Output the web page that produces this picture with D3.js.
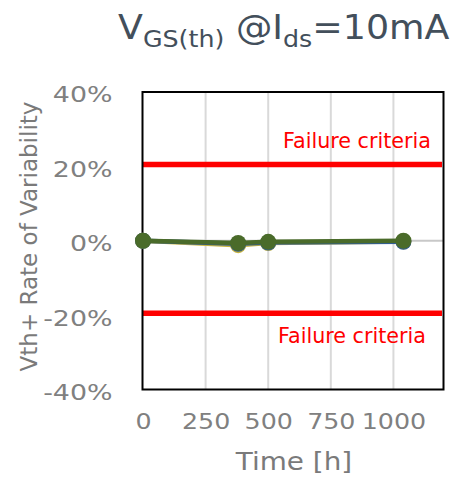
<!DOCTYPE html>
<html>
<head>
<meta charset="utf-8">
<script src="https://cdn.jsdelivr.net/npm/d3@7/dist/d3.min.js"></script>
<style>
  html, body { margin: 0; padding: 0; background: #ffffff; }
  svg { display: block; }
</style>
</head>
<body>
<div id="chart"></div>
<script>
// ---------- data ----------
const times = [0, 380, 500, 1040];
const seriesNames = ["Sample C", "Sample B", "Sample A"];
const seriesValues = [
  [0, -1.2, -0.6, -0.2],
  [0, -0.8, -0.5, -0.3],
  [0, -0.6, -0.3, 0.0]
];
const seriesColors = ["#c8b43c", "#2f5d9e", "#4a6b2a"];
const xTicks = [0, 250, 500, 750, 1000];
const yTicks = [-40, -20, 0, 20, 40];
const criteriaValues = [20.5, -19.5];
const criteriaLabel = "Failure criteria";

// ---------- layout ----------
const W = 461, H = 478;
const pLeft = 142.5, pRight = 443.5, pTop = 92, pBottom = 389.5;
const FONT = "'DejaVu Sans', Verdana, sans-serif";

const svg = d3.select("#chart").append("svg")
  .attr("width", W).attr("height", H)
  .style("font-family", FONT);

const x = d3.scaleLinear().domain([0, 1200]).range([pLeft + 0.5, pRight]);
const y = d3.scaleLinear().domain([-40, 40]).range([pBottom, pTop]);

function stretch(sel, f) {
  sel.each(function () {
    const w = this.getComputedTextLength();
    d3.select(this).attr("textLength", w * f).attr("lengthAdjust", "spacingAndGlyphs");
  });
}

// vertical gridlines
svg.append("g").selectAll("line")
  .data(xTicks.filter(d => d > 0))
  .join("line")
  .attr("x1", d => x(d)).attr("x2", d => x(d))
  .attr("y1", pTop).attr("y2", pBottom)
  .attr("stroke", "#d9d9d9").attr("stroke-width", 2);

// zero line
svg.append("line")
  .attr("x1", pLeft).attr("x2", pRight)
  .attr("y1", y(0)).attr("y2", y(0))
  .attr("stroke", "#c8c8c8").attr("stroke-width", 2);

// failure criteria lines
svg.append("g").selectAll("line")
  .data(criteriaValues)
  .join("line")
  .attr("x1", pLeft).attr("x2", pRight - 1.5)
  .attr("y1", d => y(d)).attr("y2", d => y(d))
  .attr("stroke", "#ff0000").attr("stroke-width", 5.5);

// criteria labels
svg.append("g").selectAll("text")
  .data(criteriaValues)
  .join("text")
  .attr("x", (d, i) => i === 0 ? 431 : 426)
  .attr("y", (d, i) => i === 0 ? 148.3 : 343.3)
  .attr("text-anchor", "end")
  .attr("fill", "#ff0000")
  .style("font-size", "20.5px")
  .attr("textLength", 148)
  .attr("lengthAdjust", "spacingAndGlyphs")
  .text(criteriaLabel);

// plot border
svg.append("rect")
  .attr("x", pLeft).attr("y", pTop)
  .attr("width", pRight - pLeft).attr("height", pBottom - pTop)
  .attr("fill", "none").attr("stroke", "#000").attr("stroke-width", 2);

// series lines and points
const line = d3.line().x((d, i) => x(times[i])).y(d => y(d));
seriesValues.forEach((vals, s) => {
  const g = svg.append("g").attr("class", "series").attr("data-name", seriesNames[s]);
  g.append("path")
    .attr("d", line(vals))
    .attr("fill", "none")
    .attr("stroke", seriesColors[s])
    .attr("stroke-width", 4.5)
    .attr("stroke-linejoin", "round");
  g.selectAll("circle")
    .data(vals)
    .join("circle")
    .attr("cx", (d, i) => x(times[i]))
    .attr("cy", d => y(d))
    .attr("r", 8)
    .attr("fill", seriesColors[s]);
});

// y axis
const yAxis = svg.append("g")
  .attr("transform", `translate(${pLeft},0)`)
  .call(d3.axisLeft(y).tickValues(yTicks).tickFormat(d => d + "%").tickSize(0).tickPadding(30));
yAxis.select(".domain").remove();
yAxis.selectAll("text")
  .attr("dy", "0.45em")
  .attr("fill", "#808080")
  .style("font-size", "22px")
  .style("font-family", FONT);
stretch(yAxis.selectAll("text"), 1.22);

// x axis
const xAxis = svg.append("g")
  .attr("transform", `translate(0,${pBottom})`)
  .call(d3.axisBottom(x).tickValues(xTicks).tickFormat(d3.format("d")).tickSize(0).tickPadding(24));
xAxis.select(".domain").remove();
xAxis.selectAll("text")
  .attr("fill", "#808080")
  .style("font-size", "22px")
  .style("font-family", FONT);
stretch(xAxis.selectAll("text"), 1.15);

// x axis title
const xt = svg.append("text")
  .attr("x", (pLeft + pRight) / 2 + 1)
  .attr("y", 470)
  .attr("text-anchor", "middle")
  .attr("fill", "#7a7a7a")
  .style("font-size", "24px")
  .text("Time [h]");
stretch(xt, 1.16);

// y axis title
svg.append("text")
  .attr("transform", "translate(37,236.5) rotate(-90)")
  .attr("text-anchor", "middle")
  .attr("fill", "#7a7a7a")
  .style("font-size", "23px")
  .text("Vth+ Rate of Variability");

// chart title
const tg = svg.append("g");
const title = tg.append("text")
  .attr("x", 0).attr("y", 0)
  .attr("fill", "#434f5b")
  .style("font-size", "33px");
title.append("tspan").text("V");
title.append("tspan").attr("dy", 8).style("font-size", "23px").text("GS(th)");
title.append("tspan").attr("dy", -8).text(" @I");
title.append("tspan").attr("dy", 8).style("font-size", "23px").text("ds");
title.append("tspan").attr("dy", -8).text("=10mA");
const bb = title.node().getBBox();
const k = (450 - 118) / bb.width;
tg.attr("transform", `translate(${118 - bb.x * k},39) scale(${k},1)`);
</script>
</body>
</html>
